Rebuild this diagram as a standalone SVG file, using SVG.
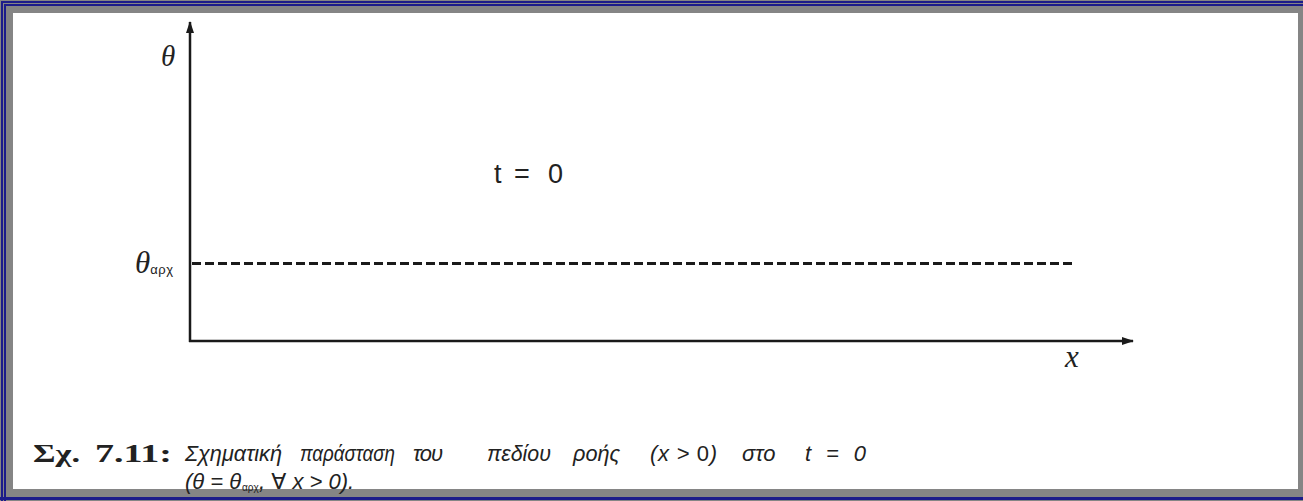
<svg xmlns="http://www.w3.org/2000/svg" width="1303" height="501" viewBox="0 0 1303 501">
<style>
.ax{stroke:#1a1a1a;stroke-width:2.5;fill:none}
.dash{stroke:#1a1a1a;stroke-width:3;fill:none;stroke-dasharray:9 4}
.lbl{font-family:"Liberation Serif","DejaVu Serif",serif;font-style:italic;fill:#222}
.sans{font-family:"Liberation Sans","DejaVu Sans",sans-serif;fill:#222}
.it{font-family:"Liberation Sans","DejaVu Sans",sans-serif;font-style:italic;fill:#222;font-size:22px}
.bold{font-family:"Liberation Serif","DejaVu Serif",serif;font-weight:bold;fill:#222;font-size:25px}
</style>
<defs>
<marker id="arr" viewBox="0 0 12 8" refX="11" refY="4" markerWidth="12" markerHeight="8" markerUnits="userSpaceOnUse" orient="auto">
<path d="M0,0 L12,4 L0,8 Z" fill="#1a1a1a"/>
</marker>
</defs>
<g id="frame">
<rect x="0" y="0" width="1303" height="501" fill="#858585"/>
<rect x="1" y="1" width="2" height="500" fill="#1c1c8a"/>
<rect x="4" y="4" width="2" height="497" fill="#1c1c8a"/>
<rect x="1" y="1" width="1302" height="2" fill="#1c1c8a"/>
<rect x="4" y="4" width="1299" height="2" fill="#1c1c8a"/>
<rect x="0" y="497" width="1303" height="3" fill="#1c1c8a"/>
<rect x="13" y="13" width="1285" height="476" fill="#ffffff"/>
</g>
<g id="connectors">
<line class="ax" x1="190" y1="342" x2="190" y2="22" marker-end="url(#arr)"/>
<line class="ax" x1="189" y1="341" x2="1133" y2="341" marker-end="url(#arr)"/>
<line class="dash" x1="192" y1="263.5" x2="1072" y2="263.5"/>
</g>
<g id="axis-labels">
<text class="lbl" x="161" y="66" font-size="29">θ</text>
<text class="lbl" x="135" y="273" font-size="31">θ<tspan class="sans" font-style="normal" font-size="13" dy="1" letter-spacing="0.5">αρχ</tspan></text>
<text class="sans" x="494" y="183" font-size="27"><tspan x="494">t</tspan><tspan x="514">=</tspan><tspan x="548">0</tspan></text>
<text class="lbl" x="1065" y="367" font-size="31">x</text>
</g>
<g id="caption">
<text class="bold" x="33" y="462" textLength="47" lengthAdjust="spacingAndGlyphs">Σχ.</text>
<text class="bold" x="95" y="462" textLength="77" lengthAdjust="spacingAndGlyphs">7.11:</text>
<text class="it" x="185" y="461" textLength="97" lengthAdjust="spacingAndGlyphs">Σχηματική</text>
<text class="it" x="300" y="461" textLength="95" lengthAdjust="spacingAndGlyphs">παράσταση</text>
<text class="it" x="413" y="461" textLength="30">του</text>
<text class="it" x="487" y="461" textLength="64" lengthAdjust="spacingAndGlyphs">πεδίου</text>
<text class="it" x="573" y="461" textLength="47" lengthAdjust="spacingAndGlyphs">ροής</text>
<text class="it" x="650" y="461" textLength="67">(<tspan>x</tspan> &gt; <tspan font-style="normal">0</tspan>)</text>
<text class="it" x="742" y="461">στο</text>
<text class="it" x="805" y="461" textLength="61">t = 0</text>
<text class="it" x="185" y="489" font-size="18">(θ = θ</text>
<text class="sans" x="242" y="491" font-size="10">αρχ</text>
<text class="it" x="259" y="489" font-size="18">,  ∀ x &gt; 0).</text>
</g>
</svg>
